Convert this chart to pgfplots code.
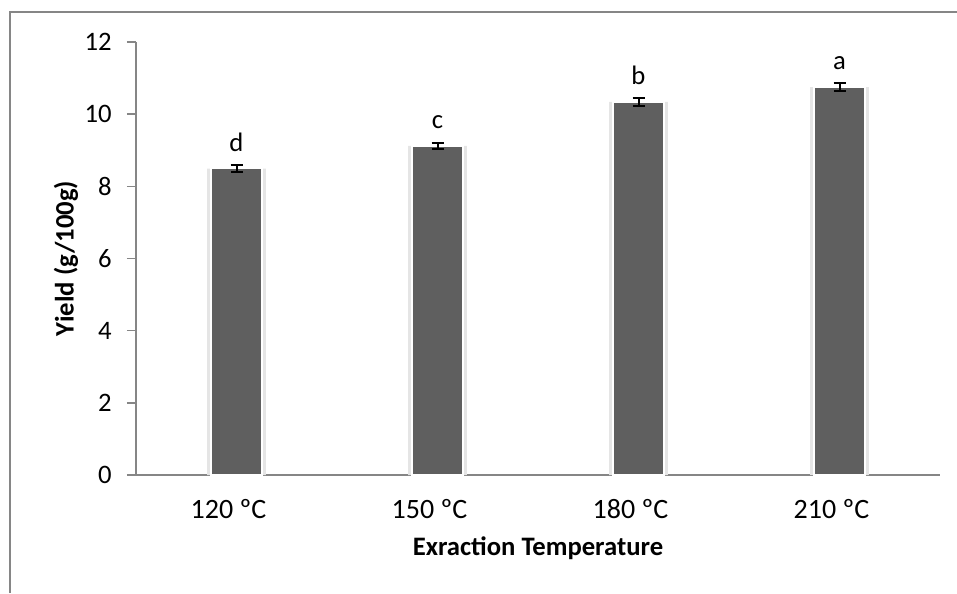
\documentclass[border=0pt]{standalone}
\usepackage{pgfplots}
\pgfplotsset{compat=1.18}
\usepackage{fontspec}
\setmainfont{Carlito}
\definecolor{barc}{HTML}{5F5F5F}
\definecolor{axc}{HTML}{868686}
\begin{document}
\begin{tikzpicture}[x=0.75pt,y=0.75pt]
\useasboundingbox (0,0) rectangle (957,593);
\draw[axc,line width=1.5pt] (10,0) -- (10,581) -- (957,581);
\begin{axis}[
  at={(102pt,88.5pt)}, anchor=south west,
  scale only axis, width=603pt, height=324.75pt,
  xmin=-0.5, xmax=3.5, ymin=0, ymax=12,
  axis x line*=bottom, axis y line*=left,
  axis line style={axc, line width=1.1pt},
  x axis line style={-}, y axis line style={-},
  xtick={0,1,2,3}, xticklabels={120 ºC,150 ºC,180 ºC,210 ºC},
  ytick={0,2,...,12},
  major tick length=6.75pt,
  xtick style={draw=none},
  ytick style={axc, line width=1.1pt},
  tick align=outside,
  /pgf/number format/assume math mode=true,
  tick label style={font=\fontsize{20}{22}\selectfont, black},
  yticklabel style={xshift=-8pt},
  xticklabel style={yshift=-8pt, xshift=-6pt, font=\fontsize{21}{22}\selectfont},
  xlabel={\textbf{Exraction Temperature}},
  ylabel={\textbf{Yield (g/100g)}},
  label style={font=\fontsize{20}{22}\selectfont},
  xlabel style={yshift=-7pt},
  ylabel style={yshift=-2pt},
  clip=false,
]
\addplot[ybar, bar width=44pt, fill=black!10, draw=none, forget plot]
  coordinates {(0,8.49) (1,9.12) (2,10.34) (3,10.75)};
\addplot[ybar, bar width=38pt, fill=barc, draw=white, line width=1.2pt,
  error bars/.cd, y dir=both, y explicit,
  error bar style={black, line width=1.5pt},
  error mark options={black, line width=1.5pt, mark size=4.5pt, rotate=90}]
  coordinates {(0,8.49) +- (0,0.1) (1,9.12) +- (0,0.08) (2,10.34) +- (0,0.1) (3,10.75) +- (0,0.11)};
\addplot[only marks, mark=none,
  nodes near coords, point meta=explicit symbolic,
  every node near coord/.append style={anchor=base, yshift=13pt, font=\fontsize{20}{22}\selectfont, black}]
  coordinates {(0,8.49) [d] (1,9.12) [c] (2,10.34) [b] (3,10.75) [a]};
\end{axis}
\end{tikzpicture}
\end{document}
